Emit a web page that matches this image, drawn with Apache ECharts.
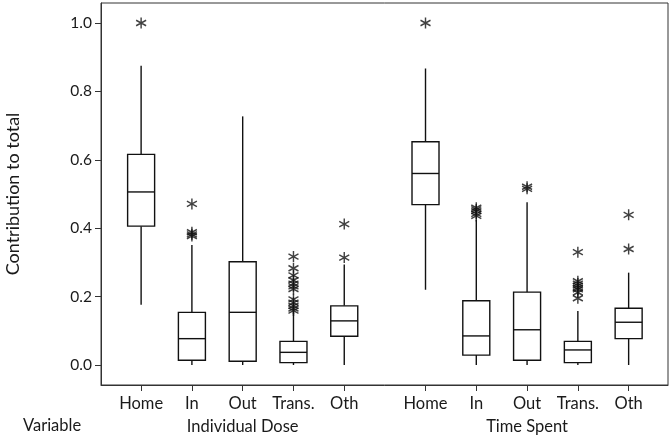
<!DOCTYPE html>
<html><head><meta charset="utf-8">
<script src="https://cdn.jsdelivr.net/npm/echarts@6/dist/echarts.min.js"></script>
<style>html,body{margin:0;padding:0;background:#fff}#c{width:672px;height:437px}</style>
</head><body><div id="c"></div>
<script>
const groups = ['Individual Dose', 'Time Spent'];
const categories = ['Home', 'In', 'Out', 'Trans.', 'Oth'];
const lowWhisker = [0.176, 0.0, 0.0, 0.0, 0.0, 0.220, 0.0, 0.0, 0.0, 0.0];
const q1 = [0.406, 0.014, 0.011, 0.007, 0.084, 0.469, 0.029, 0.014, 0.007, 0.077];
const median = [0.506, 0.077, 0.154, 0.037, 0.129, 0.560, 0.085, 0.103, 0.044, 0.125];
const q3 = [0.616, 0.154, 0.302, 0.069, 0.173, 0.653, 0.188, 0.213, 0.069, 0.166];
const highWhisker = [0.875, 0.351, 0.727, 0.156, 0.294, 0.867, 0.424, 0.476, 0.158, 0.270];
const outliers = [
  [1.0],
  [0.471, 0.388, 0.382, 0.377],
  [],
  [0.317, 0.283, 0.262, 0.248, 0.238, 0.230, 0.222, 0.192, 0.182, 0.173, 0.165, 0.159],
  [0.412, 0.314],
  [1.0],
  [0.460, 0.455, 0.450, 0.442, 0.436],
  [0.521, 0.515],
  [0.330, 0.245, 0.238, 0.232, 0.226, 0.221, 0.212, 0.195],
  [0.439, 0.339]
];
const yTicks = [0.0, 0.2, 0.4, 0.6, 0.8, 1.0];

const groupGap = 0.6;
const nCat = categories.length;
const xPos = [];
const xNames = [];
groups.forEach((g, gi) => categories.forEach((c, ci) => {
  xPos.push(gi * (nCat + groupGap) + ci + 1);
  xNames.push(c);
}));
const groupCenters = groups.map((g, gi) => gi * (nCat + groupGap) + (nCat + 1) / 2);

const boxData = xPos.map((x, i) => [x, lowWhisker[i], q1[i], median[i], q3[i], highWhisker[i]]);
const outData = [];
outliers.forEach((arr, i) => arr.forEach(v => outData.push([xPos[i], v])));

const FONT = 'Lato';
const chart = echarts.init(document.getElementById('c'), null, {renderer: 'canvas'});
const xMin = 0.21, xMax = 11.375;
chart.setOption({
  animation: false,
  grid: {left: 101, right: 4, top: 3, bottom: 52, show: true, borderColor: '#333', borderWidth: 1,
    containLabel: false, outerBoundsMode: 'none'},
  xAxis: [{
    type: 'value', min: xMin, max: xMax,
    axisLine: {show: true, onZero: false, lineStyle: {color: '#333', width: 1}},
    axisTick: {show: true, length: 6, lineStyle: {color: '#333'}, customValues: xPos},
    axisLabel: {customValues: xPos, margin: 10, color: '#1a1a1a', fontFamily: FONT, fontSize: 16.5,
      formatter: v => { const i = xPos.findIndex(p => Math.abs(p - v) < 1e-6); return i >= 0 ? xNames[i] : ''; }},
    splitLine: {show: false}
  }, {
    type: 'value', min: xMin, max: xMax, position: 'bottom', offset: 23,
    axisLine: {show: false}, axisTick: {show: false}, splitLine: {show: false},
    axisLabel: {customValues: groupCenters, margin: 10, color: '#1a1a1a', fontFamily: FONT, fontSize: 16.5,
      formatter: v => { const i = groupCenters.findIndex(p => Math.abs(p - v) < 1e-6); return i >= 0 ? groups[i] : ''; }}
  }],
  yAxis: {
    type: 'value', min: -0.0585, max: 1.0585,
    name: 'Contribution to total', nameLocation: 'middle', nameGap: 79,
    nameTextStyle: {fontFamily: FONT, fontSize: 18, color: '#1a1a1a'},
    axisLine: {show: true, lineStyle: {color: '#333', width: 1}},
    axisTick: {show: true, length: 6, lineStyle: {color: '#333'}, customValues: yTicks},
    axisLabel: {customValues: yTicks, margin: 9, color: '#1a1a1a', fontFamily: FONT, fontSize: 15.5,
      formatter: v => v.toFixed(1)},
    splitLine: {show: false}
  },
  graphic: [{type: 'text', left: 23, top: 417, style: {text: 'Variable', fontFamily: FONT, fontSize: 16.5, fill: '#1a1a1a'}}],
  series: [{
    type: 'custom',
    data: boxData,
    renderItem: (params, api) => {
      const x = api.value(0);
      const half = 13.5;
      const pLo = api.coord([x, api.value(1)]);
      const pQ1 = api.coord([x, api.value(2)]);
      const pMed = api.coord([x, api.value(3)]);
      const pQ3 = api.coord([x, api.value(4)]);
      const pHi = api.coord([x, api.value(5)]);
      const st = {stroke: '#111', lineWidth: 1.4, fill: null};
      return {type: 'group', children: [
        {type: 'line', shape: {x1: pLo[0], y1: pLo[1], x2: pQ1[0], y2: pQ1[1]}, style: st},
        {type: 'line', shape: {x1: pQ3[0], y1: pQ3[1], x2: pHi[0], y2: pHi[1]}, style: st},
        {type: 'rect', shape: {x: pQ3[0] - half, y: pQ3[1], width: half * 2, height: pQ1[1] - pQ3[1]}, style: {stroke: '#111', lineWidth: 1.4, fill: '#fff'}},
        {type: 'line', shape: {x1: pMed[0] - half, y1: pMed[1], x2: pMed[0] + half, y2: pMed[1]}, style: st}
      ]};
    }
  }, {
    type: 'scatter',
    data: outData,
    symbol: 'path://M0,0 L0,12 M-5.2,3 L5.2,9 M-5.2,9 L5.2,3',
    symbolSize: [10, 11],
    itemStyle: {color: 'none', borderColor: '#111', borderWidth: 1.5}
  }]
});
</script></body></html>
